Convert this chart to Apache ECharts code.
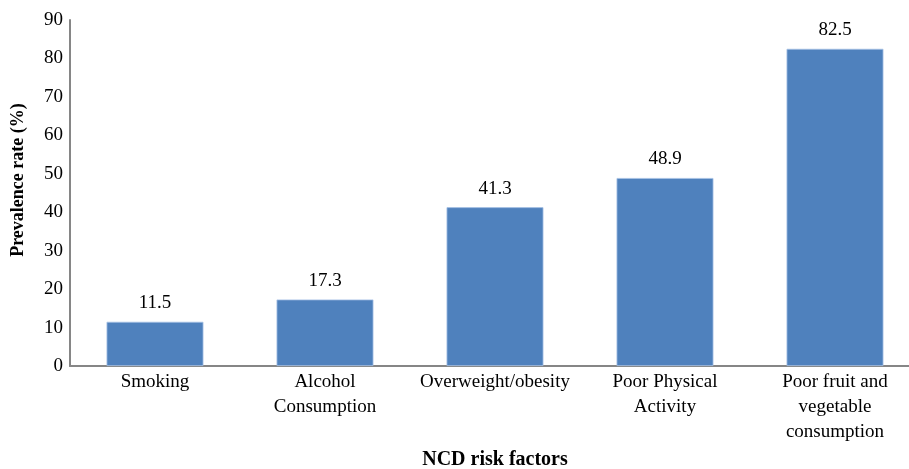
<!DOCTYPE html>
<html>
<head>
<meta charset="utf-8">
<script src="https://cdn.jsdelivr.net/npm/echarts@6/dist/echarts.min.js"></script>
<style>
  html, body { margin: 0; padding: 0; background: #fff; }
  #chart { width: 909px; height: 469px; }
</style>
</head>
<body>
<div id="chart"></div>
<script>
// Risk factor categories and their prevalence (%)
const categories = [
  'Smoking',
  'Alcohol\nConsumption',
  'Overweight/obesity',
  'Poor Physical\nActivity',
  'Poor fruit and\nvegetable\nconsumption'
];
const prevalence = [11.5, 17.3, 41.3, 48.9, 82.5];
const yTicks = { min: 0, max: 90, interval: 10 };

const font = '"Liberation Serif", "Times New Roman", serif';
const chart = echarts.init(document.getElementById('chart'));
chart.setOption({
  animation: false,
  textStyle: { fontFamily: font },
  grid: { left: 70, right: -11, top: 20, bottom: 103, outerBoundsMode: 'none', containLabel: false },
  xAxis: {
    type: 'category',
    data: categories,
    name: 'NCD risk factors',
    nameLocation: 'middle',
    nameGap: 83,
    nameTextStyle: { fontFamily: font, fontWeight: 'bold', fontSize: 20, color: '#000' },
    axisLine: { lineStyle: { color: '#868686', width: 2 } },
    axisTick: { show: false },
    axisLabel: { fontFamily: font, fontSize: 19, color: '#000', lineHeight: 25, margin: 4, interval: 0 }
  },
  yAxis: {
    type: 'value',
    min: yTicks.min,
    max: yTicks.max,
    interval: yTicks.interval,
    name: 'Prevalence rate (%)',
    nameLocation: 'middle',
    nameGap: 43,
    nameTextStyle: { fontFamily: font, fontWeight: 'bold', fontSize: 18, color: '#000', padding: [0, 0, 0, 26] },
    axisLine: { show: true, lineStyle: { color: '#868686', width: 2 } },
    axisTick: { show: false },
    splitLine: { show: false },
    axisLabel: { fontFamily: font, fontSize: 19, color: '#000', margin: 7 }
  },
  series: [{
    type: 'bar',
    data: prevalence,
    barWidth: '57%',
    itemStyle: { color: '#4F81BD', borderColor: '#a7c2e6', borderWidth: 0.8 },
    label: {
      show: true,
      position: 'top',
      distance: 9,
      fontFamily: font,
      fontSize: 19,
      color: '#000'
    }
  }]
});
</script>
</body>
</html>
